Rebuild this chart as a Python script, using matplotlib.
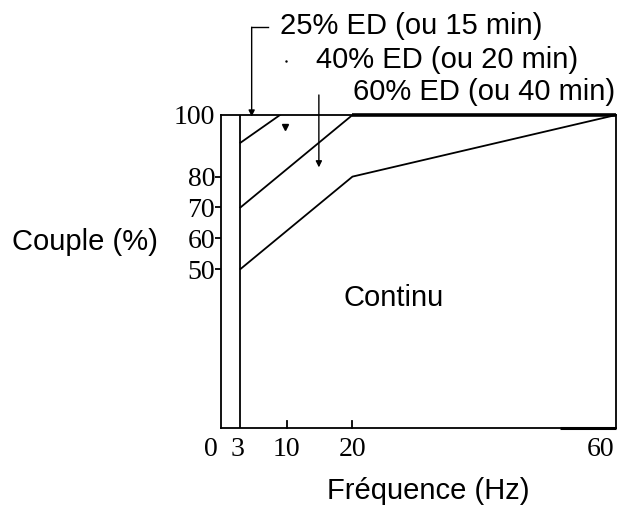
import matplotlib
matplotlib.use("Agg")
import matplotlib.pyplot as plt
import matplotlib.transforms as mtransforms

# Data
x_ticks = [0, 3, 10, 20, 60]
x_ticklabels = ["0", "3", "10", "20", "60"]
y_ticks = [50, 60, 70, 80, 100]
y_ticklabels = ["50", "60", "70", "80", "100"]

ed25_x = [3, 9]
ed25_y = [91, 100]
ed40_x = [3, 20]
ed40_y = [70, 100]
ed60_x = [3, 20, 60]
ed60_y = [50, 80, 100]
min_freq = 3

labels = ["25% ED (ou 15 min)", "40% ED (ou 20 min)", "60% ED (ou 40 min)"]

W, H = 619, 508
fig = plt.figure(figsize=(W / 100, H / 100), dpi=100)
ax = fig.add_axes([220.7 / W, 1 - 427.7 / H, (616 - 220.7) / W, (427.7 - 115) / H])
ax.set_xlim(0, 60)
ax.set_ylim(-1.5, 100)

lw = 1.3
ax.plot(ed25_x, ed25_y, color="black", lw=lw)
ax.plot(ed40_x, ed40_y, color="black", lw=lw)
ax.plot(ed60_x, ed60_y, color="black", lw=lw)
ax.axvline(min_freq, color="black", lw=lw)

for s in ax.spines.values():
    s.set_linewidth(1.3)
# thicker parts of the frame
ax.plot([20, 60], [100, 100], color="black", lw=2.6, clip_on=False, solid_capstyle="butt")
ax.plot([51.5, 60], [-1.5, -1.5], color="black", lw=2.2, clip_on=False, solid_capstyle="butt")

serif = "Liberation Serif"
ax.set_xticks(x_ticks)
ax.set_xticklabels(x_ticklabels, fontfamily=serif, fontsize=20)
ax.set_yticks(y_ticks)
ax.set_yticklabels(y_ticklabels, fontfamily=serif, fontsize=20, va="center_baseline")
ax.tick_params(axis="x", length=0, pad=7)
ax.tick_params(axis="y", direction="out", length=4, width=1.3, pad=0)
ax.yaxis.get_major_ticks()[-1].tick1line.set_visible(False)
for xv in (10, 20):
    ax.plot([xv, xv], [-1.5, 0.8], color="black", lw=1.3, clip_on=False)

lbls = ax.get_xticklabels()
offs = [-9.5, -3, 0, 0, -15]
for lb, o in zip(lbls, offs):
    lb.set_transform(lb.get_transform() + mtransforms.ScaledTranslation(o / 100, 0, fig.dpi_scale_trans))

# Arrows / markers
sans = "Liberation Sans"
fs = 21
ax.annotate("", xy=(4.7, 99.5), xytext=(4.7, 128.5), textcoords="data",
            arrowprops=dict(arrowstyle="-|>", color="black", lw=1.0, mutation_scale=9,
                            shrinkA=0, shrinkB=0), annotation_clip=False)
ax.plot([4.7, 7.2], [128.5, 128.5], color="black", lw=1.0, clip_on=False)
ax.plot([9.8], [96.0], marker="v", color="black", markersize=5, clip_on=False)
ax.plot([9.9], [117.5], marker=".", color="black", markersize=1.5, clip_on=False)
ax.annotate("", xy=(14.9, 83), xytext=(14.9, 106.5), textcoords="data",
            arrowprops=dict(arrowstyle="-|>", color="black", lw=1.0, mutation_scale=9,
                            shrinkA=0, shrinkB=0), annotation_clip=False)

fig.text(280 / W, 1 - 33.5 / H, labels[0], fontfamily=sans, fontsize=fs, va="baseline", ha="left")
fig.text(316.5 / W, 1 - 68.5 / H, labels[1], fontfamily=sans, fontsize=fs, va="baseline", ha="left")
fig.text(353 / W, 1 - 100 / H, labels[2], fontfamily=sans, fontsize=fs, va="baseline", ha="left")

fig.text(84.5 / W, 1 - 250 / H, "Couple (%)", fontfamily=sans, fontsize=fs, va="baseline", ha="center")
fig.text(428 / W, 1 - 499 / H, "Fréquence (Hz)", fontfamily=sans, fontsize=fs, va="baseline", ha="center")
fig.text(393.5 / W, 1 - 306.5 / H, "Continu", fontfamily=sans, fontsize=fs, va="baseline", ha="center")

fig.savefig("out.png", dpi=100)
